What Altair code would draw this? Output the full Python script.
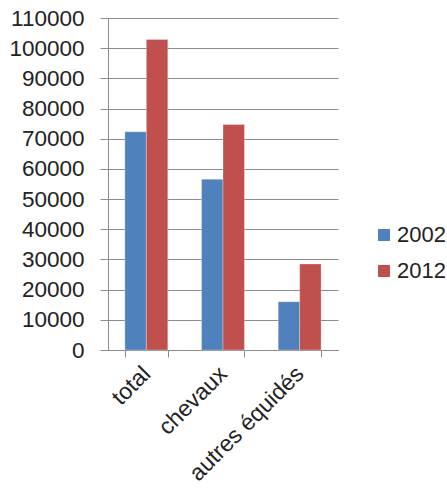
import altair as alt
import pandas as pd

categories = ["total", "chevaux", "autres équidés"]
series = ["2002", "2012"]
values_2002 = [72300, 56600, 16000]
values_2012 = [102900, 74700, 28500]

rows = []
for i, c in enumerate(categories):
    rows.append({"cat": c, "year": "2002", "value": values_2002[i]})
    rows.append({"cat": c, "year": "2012", "value": values_2012[i]})
df = pd.DataFrame(rows)

FONT = "Liberation Sans"
GRID = "#8c8c8c"

chart = alt.Chart(df).mark_bar(stroke="white", strokeWidth=0.5, strokeOpacity=0.6).encode(
    x=alt.X("cat:N", sort=categories, title=None,
            scale=alt.Scale(paddingInner=0.44, paddingOuter=0.22),
            axis=alt.Axis(labelAngle=-45, labelAlign="right", labelBaseline="middle",
                          labelFontSize=23, labelFont=FONT, labelColor="#222",
                          tickBand="extent", tickSize=7, tickColor=GRID,
                          domainColor=GRID, labelPadding=13, grid=False)),
    xOffset=alt.XOffset("year:N", sort=series, scale=alt.Scale(paddingInner=0, paddingOuter=0)),
    y=alt.Y("value:Q", title=None,
            scale=alt.Scale(domain=[0, 110000], nice=False),
            axis=alt.Axis(values=list(range(0, 110001, 10000)), format="d",
                          labelFontSize=22.5, labelFont=FONT, labelColor="#222",
                          tickSize=8, tickColor=GRID, domainColor=GRID,
                          gridColor=GRID, labelPadding=16)),
    color=alt.Color("year:N", sort=series,
                    scale=alt.Scale(domain=series, range=["#4F81BD", "#C0504D"]),
                    legend=alt.Legend(title=None, orient="none", legendX=265, legendY=206,
                                      symbolType="square", symbolSize=144,
                                      labelFontSize=22, labelFont=FONT, labelColor="#222",
                                      rowPadding=14, labelOffset=2,
                                      symbolStrokeWidth=0)),
).properties(
    width=230, height=332,
    autosize="none",
    padding={"left": 108, "top": 18, "right": 109, "bottom": 142},
).configure_view(stroke=None)

chart.save("out.html", embed_options={"renderer": "svg", "actions": False})
